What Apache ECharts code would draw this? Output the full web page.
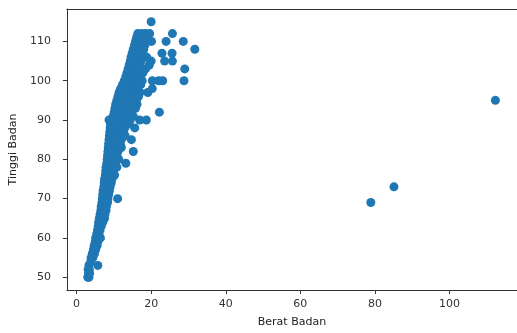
<!DOCTYPE html>
<html>
<head>
<meta charset="utf-8">
<script src="https://cdn.jsdelivr.net/npm/echarts@6/dist/echarts.min.js"></script>
<style>
  html, body { margin: 0; padding: 0; background: #fff; }
  #chart { width: 517px; height: 333px; }
</style>
</head>
<body>
<div id="chart"></div>
<script>
// tinggi badan (cm) per baris, dan berat badan (kg) yang terbaca pada tinggi itu
var tinggiBadan = [50, 51, 52, 53, 54, 55, 56, 57, 58, 59,
  60, 61, 62, 63, 64, 65, 66, 67, 68, 69,
  70, 71, 72, 73, 74, 75, 76, 77, 78, 79,
  80, 81, 82, 83, 84, 85, 86, 87, 88, 89,
  90, 91, 92, 93, 94, 95, 96, 97, 98, 99,
  100, 101, 102, 103, 104, 105, 106, 107, 108, 109,
  110, 111, 112, 115];

var beratBadan = [
  [3.0, 3.3], [3.2, 3.5], [3.4, 3.1], [3.3, 5.7], [3.8], [3.9, 4.4], [4.2, 4.8], [4.5, 5.1], [4.7, 5.5], [5.0, 5.7],
  [5.1, 5.7, 6.4], [5.4, 6.0], [5.6, 6.3], [5.8, 6.6], [5.9, 6.5, 7.0], [6.1, 6.8, 7.5], [6.3, 7.0, 7.6], [6.5, 7.2, 7.9], [6.6, 7.3, 8.0], [6.8, 7.5, 8.3, 78.9],
  [6.9, 7.6, 8.4, 11.0], [7.0, 7.8, 8.6], [7.1, 7.9, 8.8], [7.3, 8.1, 9.0, 85.1], [7.4, 8.3, 9.3], [7.5, 8.4, 9.5], [7.7, 8.6, 9.7, 10.2], [7.8, 8.8, 9.9], [7.9, 9.0, 10.1, 10.8], [8.1, 9.2, 10.4, 13.2],
  [8.2, 9.3, 10.6, 11.3], [8.3, 9.5, 10.8], [8.4, 9.7, 11.1, 15.2], [8.5, 9.9, 11.4, 12.0], [8.6, 10.1, 11.7], [8.7, 10.3, 12.0, 14.7], [8.8, 10.5, 12.3, 13.0], [8.9, 10.7, 12.6], [9.0, 10.9, 12.9, 15.6], [9.1, 11.1, 13.2, 14.0],
  [8.7, 9.5, 11.3, 13.5, 14.4, 16.9, 18.7], [9.8, 11.5, 13.6, 15.2], [10.1, 11.8, 13.8, 22.2], [10.3, 12.0, 14.1, 15.8], [10.5, 12.2, 14.4, 16.2], [10.8, 12.5, 14.7, 16.0, 112.3], [11.1, 12.8, 14.9, 16.6], [11.4, 13.1, 15.2, 17.0, 19.1], [11.8, 13.4, 15.5, 20.3], [12.3, 13.7, 15.8, 17.2],
  [12.8, 14.0, 16.0, 17.6, 20.3, 22.0, 23.1, 28.8], [13.2, 14.3, 16.2], [13.5, 14.7, 16.5, 17.8], [13.8, 15.0, 16.8, 18.5, 29.0], [14.1, 15.3, 17.0, 19.5], [14.4, 15.6, 17.3, 20.0, 23.6, 25.7], [14.6, 15.9, 17.5, 18.8], [14.9, 16.2, 17.8, 22.9, 25.6], [15.2, 16.4, 18.0, 31.7], [15.5, 16.7, 18.3],
  [15.8, 17.0, 18.5, 20.1, 24.0, 28.6], [16.1, 17.4, 19.0], [16.4, 17.5, 18.5, 19.6, 25.7], [20.0]
];

var xTicks = [0, 20, 40, 60, 80, 100];
var yTicks = [50, 60, 70, 80, 90, 100, 110];

var points = [];
tinggiBadan.forEach(function (t, i) {
  beratBadan[i].forEach(function (b) {
    points.push([b, t]);
  });
});

var font = "DejaVu Sans";
var axisColor = "#333";
var chart = echarts.init(document.getElementById("chart"), null, { renderer: "canvas" });

chart.setOption({
  animation: false,
  backgroundColor: "#fff",
  grid: {
    left: 66,
    top: 9,
    width: 456,
    bottom: 42
  },
  xAxis: [{
    type: "value",
    min: -2.6,
    max: 118.1,
    name: "Berat Badan",
    nameLocation: "middle",
    nameGap: 27,
    nameTextStyle: { color: "#222", fontFamily: font, fontSize: 11 },
    splitLine: { show: false },
    axisLine: { show: true, onZero: false, lineStyle: { color: axisColor } },
    axisTick: { show: true, inside: false, length: 4, customValues: xTicks, lineStyle: { color: axisColor } },
    axisLabel: { customValues: xTicks, margin: 9, color: "#333", fontFamily: font, fontSize: 11 }
  }, {
    // garis tepi atas saja
    type: "value",
    position: "top",
    min: -2.6,
    max: 118.1,
    splitLine: { show: false },
    axisLine: { show: true, onZero: false, lineStyle: { color: axisColor } },
    axisTick: { show: false },
    axisLabel: { show: false }
  }],
  yAxis: {
    type: "value",
    min: 46.75,
    max: 118.25,
    name: "Tinggi Badan",
    nameLocation: "middle",
    nameGap: 42,
    nameTextStyle: { color: "#222", fontFamily: font, fontSize: 11 },
    splitLine: { show: false },
    axisLine: { show: true, onZero: false, lineStyle: { color: axisColor } },
    axisTick: { show: true, inside: false, length: 4, customValues: yTicks, lineStyle: { color: axisColor } },
    axisLabel: { customValues: yTicks, margin: 16, color: "#333", fontFamily: font, fontSize: 11 }
  },
  series: [{
    type: "scatter",
    data: points,
    symbolSize: 9,
    itemStyle: { color: "#1f77b4", opacity: 1 }
  }]
});
</script>
</body>
</html>
